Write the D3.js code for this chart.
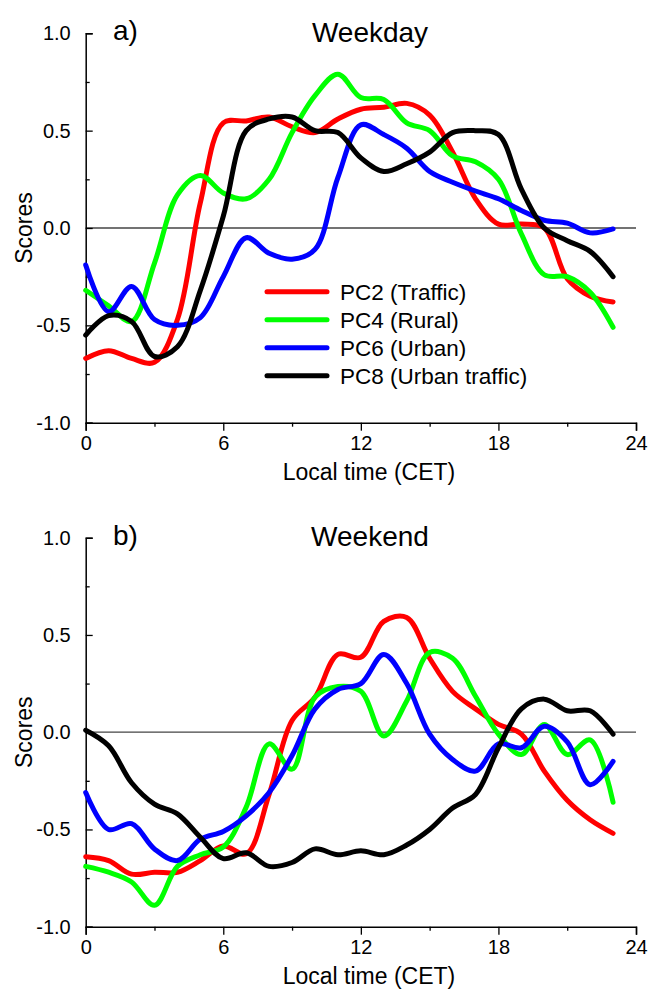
<!DOCTYPE html>
<html>
<head>
<meta charset="utf-8">
<script src="https://cdn.jsdelivr.net/npm/d3@7"></script>
<style>
  html, body { margin: 0; padding: 0; background: #fff; }
  svg { display: block; }
  text { font-family: Arial, "Liberation Sans", Helvetica, sans-serif; fill: #000; }
</style>
</head>
<body>
<svg id="chart" width="650" height="989"></svg>
<script>
// Hours of the day (local time, CET)
const hours = d3.range(0, 24);

// Component names and colours
const seriesNames = ["PC2 (Traffic)", "PC4 (Rural)", "PC6 (Urban)", "PC8 (Urban traffic)"];
const seriesColors = ["#ff0000", "#00ff00", "#0000ff", "#000000"];

// Weekday diurnal scores
const weekdayPC2 = [-0.67, -0.63, -0.67, -0.69, -0.47, 0.13, 0.54, 0.55, 0.57, 0.52, 0.49, 0.56, 0.61, 0.62, 0.64, 0.58, 0.39, 0.15, 0.02, 0.02, 0.0, -0.26, -0.35, -0.38];
const weekdayPC4 = [-0.32, -0.40, -0.48, -0.18, 0.17, 0.27, 0.18, 0.15, 0.25, 0.49, 0.68, 0.79, 0.67, 0.66, 0.54, 0.50, 0.37, 0.34, 0.25, -0.03, -0.24, -0.25, -0.33, -0.51];
const weekdayPC6 = [-0.19, -0.43, -0.30, -0.47, -0.50, -0.46, -0.25, -0.05, -0.13, -0.16, -0.11, 0.26, 0.53, 0.48, 0.41, 0.29, 0.235, 0.19, 0.15, 0.09, 0.04, 0.025, -0.025, -0.005];
const weekdayPC8 = [-0.55, -0.45, -0.48, -0.66, -0.61, -0.32, 0.06, 0.50, 0.56, 0.57, 0.50, 0.49, 0.36, 0.29, 0.33, 0.39, 0.49, 0.50, 0.48, 0.20, 0.0, -0.065, -0.12, -0.25];

// Weekend diurnal scores
const weekendPC2 = [-0.64, -0.66, -0.73, -0.72, -0.72, -0.66, -0.585, -0.625, -0.32, 0.06, 0.18, 0.40, 0.385, 0.57, 0.59, 0.38, 0.21, 0.12, 0.04, -0.01, -0.20, -0.35, -0.45, -0.52];
const weekendPC4 = [-0.69, -0.72, -0.77, -0.89, -0.69, -0.63, -0.59, -0.385, -0.06, -0.19, 0.18, 0.235, 0.21, -0.02, 0.16, 0.41, 0.38, 0.185, -0.01, -0.115, 0.04, -0.115, -0.04, -0.36];
const weekendPC6 = [-0.31, -0.50, -0.47, -0.60, -0.66, -0.55, -0.51, -0.43, -0.31, -0.12, 0.12, 0.22, 0.25, 0.40, 0.25, -0.01, -0.14, -0.20, -0.06, -0.08, 0.03, -0.05, -0.27, -0.15];
const weekendPC8 = [0.01, -0.07, -0.26, -0.37, -0.42, -0.54, -0.65, -0.62, -0.69, -0.67, -0.60, -0.63, -0.61, -0.63, -0.58, -0.50, -0.39, -0.32, -0.08, 0.12, 0.17, 0.11, 0.11, -0.01];

// Axis ticks
const xTicks = [0, 6, 12, 18, 24];
const xMinorTicks = [3, 9, 15, 21];
const yTicks = [-1.0, -0.5, 0.0, 0.5, 1.0];
const yMinorTicks = [-0.75, -0.25, 0.25, 0.75];

const panels = [
  { letter: "a)", title: "Weekday", series: [weekdayPC2, weekdayPC4, weekdayPC6, weekdayPC8], top: 33.3, bottom: 422.7, legend: true },
  { letter: "b)", title: "Weekend", series: [weekendPC2, weekendPC4, weekendPC6, weekendPC8], top: 537.7, bottom: 926.7, legend: false }
];

const svg = d3.select("#chart");
const x = d3.scaleLinear().domain([0, 24]).range([85.7, 636]);

panels.forEach(p => {
  const y = d3.scaleLinear().domain([-1, 1]).range([p.bottom, p.top]);
  const g = svg.append("g");

  // zero reference line
  g.append("line")
    .attr("x1", x(0)).attr("x2", x(24))
    .attr("y1", y(0)).attr("y2", y(0))
    .attr("stroke", "#444").attr("stroke-width", 1.3);

  // x axis (ticks outward)
  const xAxis = d3.axisBottom(x).tickValues(xTicks).tickSize(8).tickPadding(5).tickFormat(d => String(d));
  const gx = g.append("g").attr("transform", `translate(0,${p.bottom})`).call(xAxis);
  gx.select(".domain").attr("stroke-width", 1.5);
  gx.selectAll(".tick line").attr("stroke-width", 1.3);
  gx.selectAll("text").style("font-size", "20px").attr("fill", "#000");
  const xMinor = d3.axisBottom(x).tickValues(xMinorTicks).tickSize(4).tickFormat("");
  const gxm = g.append("g").attr("transform", `translate(0,${p.bottom})`).call(xMinor);
  gxm.select(".domain").remove();
  gxm.selectAll(".tick line").attr("stroke-width", 1.3);

  // y axis (ticks inward)
  const yAxis = d3.axisLeft(y).tickValues(yTicks).tickSize(-7).tickPadding(15).tickFormat(d => d.toFixed(1));
  const gy = g.append("g").attr("transform", `translate(${x(0)},0)`).call(yAxis);
  gy.select(".domain").attr("stroke-width", 1.5);
  gy.selectAll(".tick line").attr("stroke-width", 1.3);
  gy.selectAll("text").style("font-size", "20px").attr("fill", "#000");
  const yMinor = d3.axisLeft(y).tickValues(yMinorTicks).tickSize(-4).tickFormat("");
  const gym = g.append("g").attr("transform", `translate(${x(0)},0)`).call(yMinor);
  gym.select(".domain").remove();
  gym.selectAll(".tick line").attr("stroke-width", 1.3);

  // series curves
  const line = d3.line()
    .x((d, i) => x(hours[i]))
    .y(d => y(d))
    .curve(d3.curveCatmullRom.alpha(0.5));
  p.series.forEach((s, k) => {
    g.append("path")
      .attr("d", line(s))
      .attr("fill", "none")
      .attr("stroke", seriesColors[k])
      .attr("stroke-width", 5)
      .attr("stroke-linecap", "round")
      .attr("stroke-linejoin", "round");
  });

  // panel letter and title
  g.append("text").attr("x", 113).attr("y", p.top + 7).style("font-size", "28px").text(p.letter);
  g.append("text").attr("x", 370).attr("y", p.top + 8.5).attr("text-anchor", "middle").style("font-size", "28px").text(p.title);

  // axis titles
  g.append("text")
    .attr("x", 369).attr("y", p.bottom + 57)
    .attr("text-anchor", "middle").style("font-size", "23px")
    .text("Local time (CET)");
  g.append("text")
    .attr("transform", `translate(32,${(p.top + p.bottom) / 2}) rotate(-90)`)
    .attr("text-anchor", "middle").style("font-size", "23px")
    .text("Scores");

  // legend
  if (p.legend) {
    const lg = g.append("g");
    seriesNames.forEach((name, k) => {
      const yy = 291.7 + k * 28;
      lg.append("line")
        .attr("x1", 267).attr("x2", 327).attr("y1", yy).attr("y2", yy)
        .attr("stroke", seriesColors[k]).attr("stroke-width", 5).attr("stroke-linecap", "round");
      lg.append("text").attr("x", 340).attr("y", yy + 8.3).style("font-size", "22.5px").text(name);
    });
  }
});
</script>
</body>
</html>
